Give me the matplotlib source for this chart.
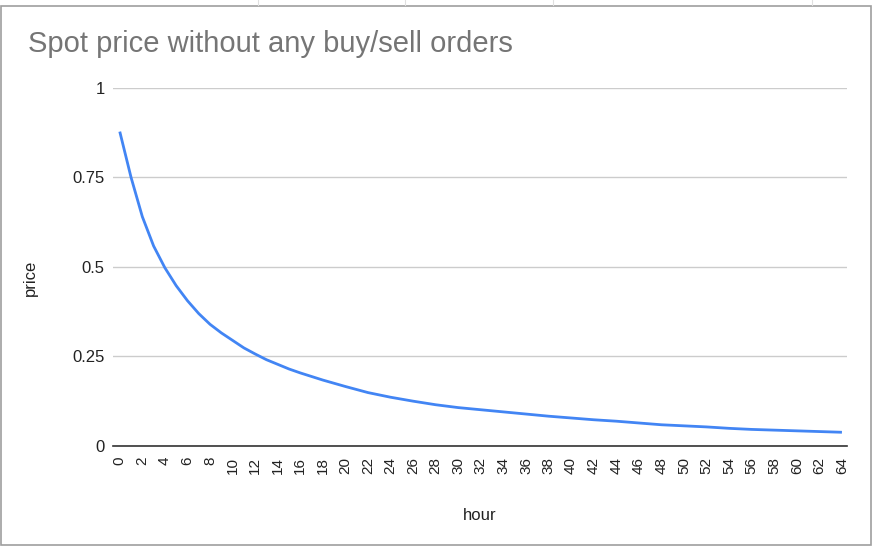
import matplotlib
matplotlib.use("Agg")
import matplotlib.pyplot as plt
from matplotlib.patches import Rectangle
from matplotlib.lines import Line2D

plt.rcParams['font.family'] = ['Liberation Sans', 'DejaVu Sans']

# --- data ---
hours = [0, 1, 2, 3, 4, 5, 6, 7, 8, 9, 10, 11, 12, 13, 14, 15, 16, 18, 20, 22,
         24, 26, 28, 30, 32, 34, 36, 38, 40, 42, 44, 46, 48, 50, 52, 54, 56,
         58, 60, 62, 64]
price = [0.878, 0.75, 0.64, 0.558, 0.497, 0.447, 0.405, 0.369, 0.339, 0.315,
         0.294, 0.273, 0.256, 0.240, 0.227, 0.214, 0.203, 0.183, 0.165, 0.148,
         0.135, 0.124, 0.114, 0.106, 0.100, 0.094, 0.088, 0.082, 0.077, 0.072,
         0.068, 0.063, 0.058, 0.055, 0.052, 0.048, 0.045, 0.043, 0.041, 0.039,
         0.037]
x_ticks = list(range(0, 65, 2))
y_ticks = [0, 0.25, 0.5, 0.75, 1]
y_tick_labels = ["0", "0.25", "0.5", "0.75", "1"]

W, H = 875, 547
fig = plt.figure(figsize=(W / 100, H / 100), dpi=100)

# chart frame and a hint of the spreadsheet grid above it
fig.patches.append(Rectangle((1 / W, 1 - 545 / H), 870 / W, 539 / H,
                             transform=fig.transFigure, fill=False,
                             edgecolor="#9e9e9e", linewidth=1.2))
for gx in [258, 405, 553, 812]:
    fig.lines.append(Line2D([gx / W, gx / W], [1 - 5 / H, 1],
                            transform=fig.transFigure, color="#e0e0e0", lw=0.8))

ax = fig.add_axes([113 / W, 1 - 445.5 / H, (847 - 113) / W, (445.5 - 88) / H])

ax.plot(hours, price, color="#4285F4", linewidth=2.0,
        solid_capstyle="butt", solid_joinstyle="round")

ax.set_xlim(-0.6, 64.45)
ax.set_ylim(0, 1)
ax.set_yticks(y_ticks)
ax.set_yticklabels(y_tick_labels, fontsize=12, color="#222222")
ax.set_xticks(x_ticks)
ax.set_xticklabels([str(h) for h in x_ticks], rotation=90, fontsize=11, color="#222222")
ax.tick_params(axis="both", length=0)
ax.tick_params(axis="y", pad=6)
ax.tick_params(axis="x", pad=8)

ax.grid(axis="y", color="#cccccc", linewidth=1)
ax.set_axisbelow(True)
for side in ["top", "right", "left"]:
    ax.spines[side].set_visible(False)
ax.spines["bottom"].set_color("#333333")
ax.spines["bottom"].set_linewidth(1.2)
ax.spines["bottom"].set_zorder(3)

ax.set_xlabel("hour", fontsize=12, color="#222222")
ax.xaxis.set_label_coords(0.5, -(508 - 445.5) / (445.5 - 88))
ax.set_ylabel("price", fontsize=12, color="#222222")
ax.yaxis.set_label_coords(-(113 - 38) / (847 - 113), 0.47)

fig.text(28 / W, 1 - 44 / H, "Spot price without any buy/sell orders",
         fontsize=21, color="#757575", ha="left", va="center")

fig.savefig("out.png", dpi=100)
plt.close(fig)
